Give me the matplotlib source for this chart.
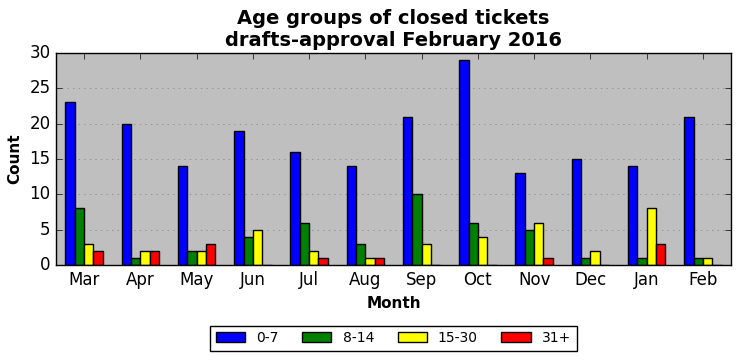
import matplotlib.pyplot as plt
import numpy as np

months = ["Mar", "Apr", "May", "Jun", "Jul", "Aug", "Sep", "Oct", "Nov", "Dec", "Jan", "Feb"]
age_0_7 = [23, 20, 14, 19, 16, 14, 21, 29, 13, 15, 14, 21]
age_8_14 = [8, 1, 2, 4, 6, 3, 10, 6, 5, 1, 1, 1]
age_15_30 = [3, 2, 2, 5, 2, 1, 3, 4, 6, 2, 8, 1]
age_31_plus = [2, 2, 3, 0, 1, 1, 0, 0, 1, 0, 3, 0]

series = [("0-7", age_0_7, "blue"), ("8-14", age_8_14, "green"),
          ("15-30", age_15_30, "yellow"), ("31+", age_31_plus, "red")]

plt.style.use("classic")
fig = plt.figure(figsize=(7.41, 3.61), dpi=100, facecolor="white")
ax = fig.add_axes([56 / 741, 1 - 265 / 361, 675 / 741, 212 / 361])
ax.set_facecolor("#bfbfbf")

x = np.arange(len(months))
w = 0.166
for k, (label, vals, color) in enumerate(series):
    ax.bar(x + (k - 2) * w, vals, w, align="edge", color=color,
           edgecolor="black", linewidth=1, label=label)

ax.set_xlim(-0.5, 11.5)
ax.set_ylim(0, 30)
ax.set_xticks(x)
ax.set_xticklabels(months, fontsize=12)
ax.set_yticks(range(0, 31, 5))
ax.tick_params(axis="y", labelsize=12)
ax.yaxis.grid(True, linestyle=":", color="gray")
ax.set_axisbelow(True)
ax.set_xlabel("Month", fontweight="bold", fontsize=11)
ax.set_ylabel("Count", fontweight="bold", fontsize=11)
ax.set_title("Age groups of closed tickets\ndrafts-approval February 2016",
             fontweight="bold", fontsize=14)

leg = ax.legend(loc="center", bbox_to_anchor=(0.5, -0.345), ncol=4,
                fontsize=10, fancybox=False, handlelength=2.1, columnspacing=1.7)

fig.savefig("out.png", dpi=100, facecolor="white")
